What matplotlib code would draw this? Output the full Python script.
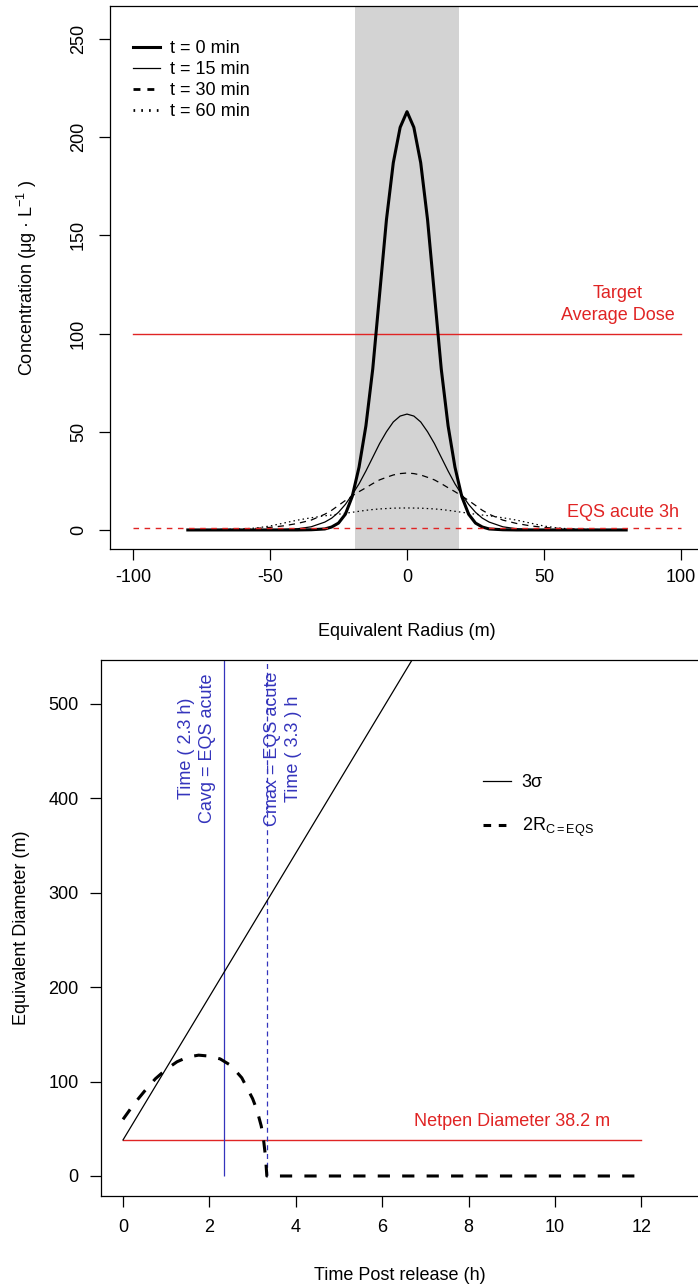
import numpy as np
import matplotlib
matplotlib.use("Agg")
import matplotlib.pyplot as plt
from matplotlib.lines import Line2D

plt.rcParams['font.family'] = ['Liberation Sans', 'DejaVu Sans']
plt.rcParams['mathtext.fontset'] = 'custom'
plt.rcParams['mathtext.rm'] = 'Liberation Sans'
plt.rcParams['mathtext.it'] = 'Liberation Sans:italic'
plt.rcParams['mathtext.default'] = 'regular'
plt.rcParams['axes.unicode_minus'] = False

# ---- concentration profiles (half profile, mirrored about r = 0) ----
radius_half = [0, 2.5, 5, 7.5, 10, 12.5, 15, 17.5, 20, 22.5, 25, 27.5, 30,
               35, 40, 45, 50, 55, 60, 65, 70, 75, 80]
conc_t0_half = [213, 205, 187, 158, 120, 82, 53, 32, 17, 8, 3.5, 1.5, 0.5,
                0.1, 0, 0, 0, 0, 0, 0, 0, 0, 0]
conc_t15_half = [59, 58, 55, 50, 44, 37, 30, 23.5, 18, 13, 9, 6, 4,
                 1.6, 0.6, 0.2, 0.05, 0, 0, 0, 0, 0, 0]
conc_t30_half = [29, 28.7, 28, 26.8, 25.5, 23.6, 21.5, 19.5, 17.3, 15, 12.5, 10, 8,
                 5, 3.3, 2.1, 1.3, 0.8, 0.5, 0.3, 0.2, 0.1, 0.1]
conc_t60_half = [11.2, 11.15, 11.1, 10.9, 10.7, 10.4, 10, 9.5, 9, 8.5, 8, 7.6, 7.2,
                 6.2, 5, 3.5, 2, 1, 0.5, 0.3, 0.2, 0.15, 0.1]
profile_labels = ["t = 0 min", "t = 15 min", "t = 30 min", "t = 60 min"]

netpen_diameter = 38.2
target_dose = 100
eqs_acute = 1.0

# ---- plume diameter through time ----
sigma3_time = [0, 2, 4, 6, 8]
sigma3_diam = [38.2, 190, 342, 494, 646]
r_eqs_time = [0, 0.25, 0.5, 0.75, 1.0, 1.25, 1.5, 1.75, 2.0, 2.25, 2.5, 2.75,
              3.0, 3.1, 3.2, 3.25, 3.3, 3.33, 4, 6, 8, 10, 11.9]
r_eqs_diam = [60, 76, 90, 103, 113, 121, 126, 128, 127, 124, 117, 104,
              82, 70, 53, 40, 20, 0, 0, 0, 0, 0, 0]
time_cavg = 2.33
time_cmax = 3.33
netpen_time = [0, 12]

RED = '#e02424'
BLUE = '#3434bc'
FS = 13


def mirror(half):
    half = np.asarray(half, dtype=float)
    return np.concatenate([half[:0:-1], half])


r_full = np.concatenate([-np.asarray(radius_half[:0:-1], float), np.asarray(radius_half, float)])

W, H = 698, 1287
fig = plt.figure(figsize=(W / 100, H / 100), dpi=100)


def px_axes(left, top, right, bottom):
    return fig.add_axes([left / W, 1 - bottom / H, (right - left) / W, (bottom - top) / H])


def style_axes(ax):
    for s in ax.spines.values():
        s.set_linewidth(0.9)
        s.set_color('black')
    ax.tick_params(direction='out', length=8, width=0.9, labelsize=FS, colors='black')


# ================= top panel =================
ax1 = px_axes(110, 6, 704, 549)
style_axes(ax1)
ax1.set_xlim(-108.4, 108.4)
ax1.set_ylim(-9.7, 266.8)
ax1.axvspan(-netpen_diameter / 2, netpen_diameter / 2, color='#d3d3d3', lw=0, zorder=0)

ax1.plot(r_full, mirror(conc_t0_half), color='black', lw=2.2, zorder=3)
ax1.plot(r_full, mirror(conc_t15_half), color='black', lw=0.9, zorder=3)
ax1.plot(r_full, mirror(conc_t30_half), color='black', lw=0.9, dashes=(5, 4), zorder=3)
ax1.plot(r_full, mirror(conc_t60_half), color='black', lw=0.9, dashes=(1.2, 2.5), zorder=3)

ax1.plot([-100, 100], [target_dose, target_dose], color=RED, lw=1.0, zorder=2)
ax1.plot([-100, 100], [eqs_acute, eqs_acute], color=RED, lw=1.0, dashes=(4, 4), zorder=4)
ax1.text(77, 115, "Target\nAverage Dose", color=RED, fontsize=FS, ha='center',
         va='center', multialignment='center', linespacing=1.4)
ax1.text(79, 8.7, "EQS acute 3h", color=RED, fontsize=FS, ha='center', va='center')

ax1.set_xticks([-100, -50, 0, 50, 100])
ax1.set_yticks([0, 50, 100, 150, 200, 250])
ax1.tick_params(axis='x', pad=6.5)
ax1.tick_params(axis='y', pad=8.6)
for lab in ax1.get_yticklabels():
    lab.set_rotation(90)
    lab.set_va('center')

handles1 = [Line2D([], [], color='black', lw=2.2),
            Line2D([], [], color='black', lw=0.9),
            Line2D([], [], color='black', lw=2.0, dashes=(2.5, 2.5)),
            Line2D([], [], color='black', lw=2.0, dashes=(0.6, 2.2))]
fig.legend(handles1, profile_labels, loc='upper left',
           bbox_to_anchor=(133 / W, 1 - 40 / H), bbox_transform=fig.transFigure,
           frameon=False, borderpad=0, borderaxespad=0, handlelength=1.5,
           handletextpad=0.55, labelspacing=0.22, fontsize=FS)

fig.text(407 / W, 1 - 632 / H, "Equivalent Radius (m)", fontsize=FS, ha='center', va='center')
fig.text(27 / W, 1 - 278 / H, "Concentration (μg · L$^{-1}$ )", fontsize=FS,
         ha='center', va='center', rotation=90)

# ================= bottom panel =================
ax2 = px_axes(101, 660, 700, 1196)
style_axes(ax2)
ax2.set_xlim(-0.51, 13.36)
ax2.set_ylim(-21.2, 546.6)

ax2.plot(sigma3_time, sigma3_diam, color='black', lw=0.9, zorder=3)
ax2.plot(r_eqs_time, r_eqs_diam, color='black', lw=2.2, dashes=(4, 4), zorder=3)
ax2.plot(netpen_time, [netpen_diameter, netpen_diameter], color=RED, lw=1.0, zorder=2)
ax2.vlines(time_cavg, 0, 600, color=BLUE, lw=0.9, zorder=2)
ax2.vlines(time_cmax, 0, 600, color=BLUE, lw=0.9, linestyles=(0, (4, 3)), zorder=2)

ax2.text(9.0, 58, "Netpen Diameter 38.2 m", color=RED, fontsize=FS, ha='center', va='center')
ax2.text(1.71, 453, "Time ( 2.3 h)\nCavg = EQS acute", color=BLUE, fontsize=FS,
         rotation=90, ha='center', va='center', multialignment='center', linespacing=1.3)
ax2.text(3.71, 453, "Cmax = EQS acute\nTime ( 3.3 ) h", color=BLUE, fontsize=FS,
         rotation=90, ha='center', va='center', multialignment='center', linespacing=1.3)

ax2.set_xticks([0, 2, 4, 6, 8, 10, 12])
ax2.set_yticks([0, 100, 200, 300, 400, 500])
ax2.tick_params(axis='x', pad=8.6)
ax2.tick_params(axis='y', pad=8.0)

handles2 = [Line2D([], [], color='black', lw=0.9),
            Line2D([], [], color='black', lw=2.2, dashes=(2.5, 2.5))]
fig.legend(handles2, ["3σ", "2R$_{\\mathrm{C=EQS}}$"], loc='upper left',
           bbox_to_anchor=(483 / W, 1 - 774 / H), bbox_transform=fig.transFigure,
           frameon=False, borderpad=0, borderaxespad=0, handlelength=1.55,
           handletextpad=0.6, labelspacing=1.4, fontsize=FS)

fig.text(400 / W, 1 - 1275 / H, "Time Post release (h)", fontsize=FS, ha='center', va='center')
fig.text(22 / W, 1 - 928 / H, "Equivalent Diameter (m)", fontsize=FS,
         ha='center', va='center', rotation=90)

fig.savefig("out.png", dpi=100)
